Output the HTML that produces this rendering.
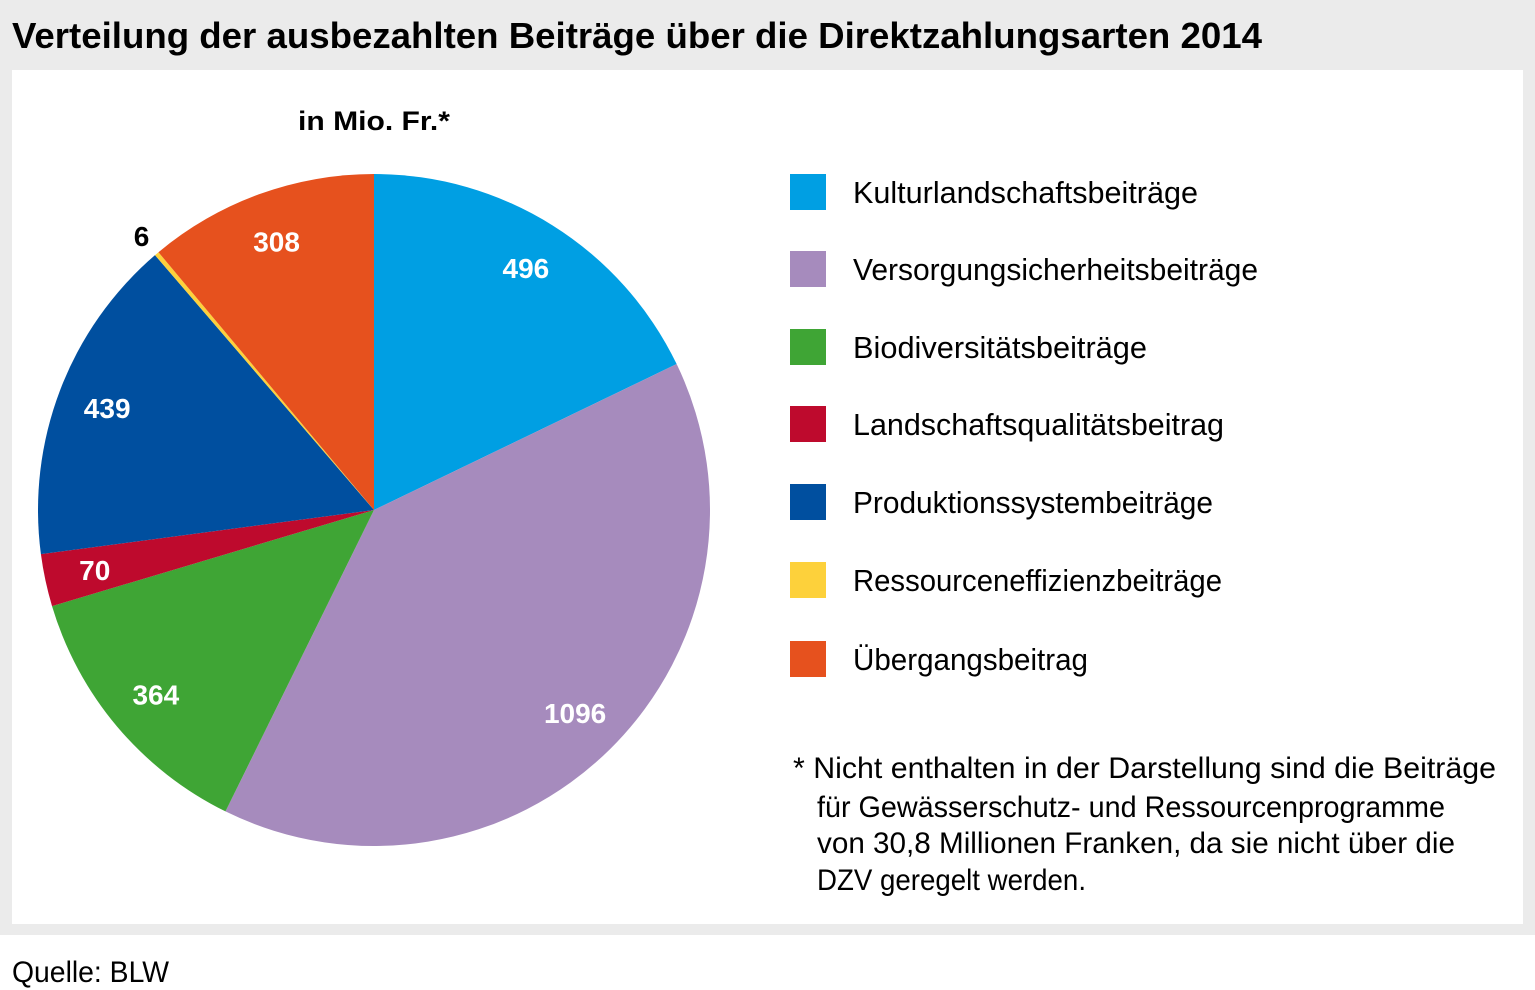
<!DOCTYPE html>
<html><head><meta charset="utf-8"><style>
body{margin:0;background:#fff;}
svg{display:block;font-family:"Liberation Sans Narrow","Liberation Sans",sans-serif;}
</style></head><body>
<svg width="1535" height="990" viewBox="0 0 1535 990">
<rect x="0" y="0" width="1535" height="935" fill="#ebebeb"/>
<rect x="12" y="70" width="1511" height="854" fill="#fff"/>
<text x="12" y="48" font-size="36" font-weight="bold" textLength="1250" lengthAdjust="spacingAndGlyphs">Verteilung der ausbezahlten Beiträge über die Direktzahlungsarten 2014</text>
<text x="374" y="130" font-size="27" font-weight="bold" text-anchor="middle" textLength="152" lengthAdjust="spacingAndGlyphs">in Mio. Fr.*</text>
<g id="pie"></g>
<g id="legend"></g>
<g font-size="30">
<text x="793" y="778" textLength="703" lengthAdjust="spacingAndGlyphs">* Nicht enthalten in der Darstellung sind die Beiträge</text>
<text x="817" y="817" textLength="628" lengthAdjust="spacingAndGlyphs">für Gewässerschutz- und Ressourcenprogramme</text>
<text x="817" y="853" textLength="638" lengthAdjust="spacingAndGlyphs">von 30,8 Millionen Franken, da sie nicht über die</text>
<text x="817" y="890" textLength="269" lengthAdjust="spacingAndGlyphs">DZV geregelt werden.</text>
</g>
<text x="12" y="982" font-size="30" textLength="157" lengthAdjust="spacingAndGlyphs">Quelle: BLW</text>
</svg>
<script>
const categories=["Kulturlandschaftsbeiträge","Versorgungsicherheitsbeiträge","Biodiversitätsbeiträge","Landschaftsqualitätsbeitrag","Produktionssystembeiträge","Ressourceneffizienzbeiträge","Übergangsbeitrag"];
const values=[496,1096,364,70,439,6,308];
const colors=["#009fe3","#a68bbd","#3fa535","#be0a2d","#004f9f","#fdd13b","#e6511e"];
const labelColors=["#fff","#fff","#fff","#fff","#fff","#000","#fff"];
const legendWidths=[345,405,294,371,360,369,235];
const NS="http://www.w3.org/2000/svg";
const cx=374,cy=510,R=336;
const total=values.reduce((a,b)=>a+b,0);
const pie=document.getElementById('pie');
let acc=0;
function pt(a,r){return [cx+r*Math.sin(a),cy-r*Math.cos(a)];}
values.forEach((v,i)=>{
  const a0=acc/total*2*Math.PI;acc+=v;const a1=acc/total*2*Math.PI;
  const p0=pt(a0,R),p1=pt(a1,R);
  const p=document.createElementNS(NS,'path');
  p.setAttribute('d',`M${cx},${cy}L${p0[0]},${p0[1]}A${R},${R} 0 ${a1-a0>Math.PI?1:0} 1 ${p1[0]},${p1[1]}Z`);
  p.setAttribute('fill',colors[i]);
  
  
  pie.appendChild(p);
  const am=(a0+a1)/2;const small=v/total<0.01;
  const lp=pt(am,small?R*1.07:R*0.85);
  const t=document.createElementNS(NS,'text');
  t.setAttribute('x',lp[0]);t.setAttribute('y',lp[1]+10);
  t.setAttribute('text-anchor','middle');t.setAttribute('font-size','28');t.setAttribute('font-weight','bold');
  t.setAttribute('fill',labelColors[i]);
  
  
  t.textContent=values[i];
  pie.appendChild(t);
});
const lg=document.getElementById('legend');
const ly=[192,269,347,424,502,580,659];
categories.forEach((c,i)=>{
  const g=document.createElementNS(NS,'g');
  
  
  const r=document.createElementNS(NS,'rect');
  r.setAttribute('x',790);r.setAttribute('y',ly[i]-18);r.setAttribute('width',36);r.setAttribute('height',36);r.setAttribute('fill',colors[i]);
  g.appendChild(r);
  const t=document.createElementNS(NS,'text');
  t.setAttribute('x',853);t.setAttribute('y',ly[i]+11);t.setAttribute('font-size','31');
  t.setAttribute('textLength',legendWidths[i]);t.setAttribute('lengthAdjust','spacingAndGlyphs');
  t.textContent=c;g.appendChild(t);
  lg.appendChild(g);
});
</script>
</body></html>
